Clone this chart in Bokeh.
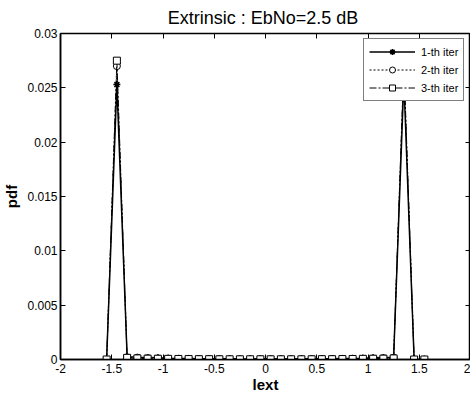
from bokeh.plotting import figure
from bokeh.models import LinearAxis, FixedTicker, Legend, LegendItem, Range1d
from bokeh.embed import file_html
from bokeh.resources import INLINE

# bin centres of the extrinsic LLR histogram
lext = [-1.55, -1.45, -1.35, -1.25, -1.15, -1.05, -0.95, -0.85, -0.75, -0.65,
        -0.55, -0.45, -0.35, -0.25, -0.15, -0.05, 0.05, 0.15, 0.25, 0.35,
        0.45, 0.55, 0.65, 0.75, 0.85, 0.95, 1.05, 1.15, 1.25, 1.35, 1.45, 1.55]

iter1 = [0.0, 0.0253, 0.00025, 0.0002, 0.00018, 0.00015, 0.00012, 0.0001, 0.0001, 0.00008,
         0.00007, 0.00006, 0.00006, 0.00005, 0.00005, 0.00005, 0.00005, 0.00005, 0.00005, 0.00006,
         0.00006, 0.00007, 0.00008, 0.0001, 0.0001, 0.00012, 0.00015, 0.00018, 0.0002, 0.0257, 0.0, 0.0]
iter2 = [0.0, 0.0270, 0.0002, 0.00015, 0.00012, 0.0001, 0.00008, 0.00007, 0.00006, 0.00005,
         0.00004, 0.00004, 0.00003, 0.00003, 0.00003, 0.00003, 0.00003, 0.00003, 0.00003, 0.00003,
         0.00004, 0.00004, 0.00005, 0.00006, 0.00007, 0.00008, 0.0001, 0.00012, 0.00015, 0.0268, 0.0, 0.0]
iter3 = [0.0, 0.0275, 0.00015, 0.0001, 0.00008, 0.00007, 0.00006, 0.00005, 0.00004, 0.00003,
         0.00003, 0.00002, 0.00002, 0.00002, 0.00002, 0.00002, 0.00002, 0.00002, 0.00002, 0.00002,
         0.00002, 0.00003, 0.00003, 0.00004, 0.00005, 0.00006, 0.00007, 0.00008, 0.0001, 0.0274, 0.0, 0.0]

x_ticks = [-2, -1.5, -1, -0.5, 0, 0.5, 1, 1.5, 2]
x_tick_labels = ["-2", "-1.5", "-1", "-0.5", "0", "0.5", "1", "1.5", "2"]
y_ticks = [0, 0.005, 0.01, 0.015, 0.02, 0.025, 0.03]
y_tick_labels = ["0", "0.005", "0.01", "0.015", "0.02", "0.025", "0.03"]

FONT = "Liberation Sans"

p = figure(frame_width=410, frame_height=326, output_backend="svg", toolbar_location=None,
           x_range=Range1d(-2, 2), y_range=Range1d(0, 0.03),
           min_border_left=54, min_border_right=0, min_border_top=24, min_border_bottom=37)
p.title.text = "Extrinsic :  EbNo=2.5 dB"
p.title.align = "center"
p.title.text_font = FONT
p.title.text_font_size = "18px"
p.title.text_font_style = "normal"
p.title.text_color = "black"
p.title.standoff = 11
p.grid.visible = False
p.outline_line_color = "black"
p.outline_line_width = 1.5
p.background_fill_color = "white"
p.border_fill_color = "white"

for ax in p.xaxis:
    ax.ticker = FixedTicker(ticks=x_ticks)
    ax.major_label_overrides = dict(zip(x_ticks, x_tick_labels))
for ax in p.yaxis:
    ax.ticker = FixedTicker(ticks=y_ticks)
    ax.major_label_overrides = dict(zip(y_ticks, y_tick_labels))

p.xaxis.axis_label = "lext"
p.yaxis.axis_label = "pdf"
for ax in list(p.xaxis) + list(p.yaxis):
    ax.major_tick_in = 5
    ax.major_tick_out = 0
    ax.minor_tick_line_color = None
    ax.axis_line_width = 1.5
    ax.major_label_text_font = FONT
    ax.major_label_text_font_size = "12px"
    ax.major_label_text_color = "black"
    ax.axis_label_text_font = FONT
    ax.axis_label_text_font_size = "15px"
    ax.axis_label_text_font_style = "bold"
    ax.axis_label_text_color = "black"
p.xaxis.major_label_standoff = 4
p.xaxis.axis_label_standoff = 0
p.yaxis.major_label_standoff = 3
p.yaxis.axis_label_standoff = 4

top = LinearAxis(ticker=FixedTicker(ticks=x_ticks), major_tick_in=5, major_tick_out=0,
                 minor_tick_line_color=None, major_label_overrides={t: "" for t in x_ticks},
                 major_label_text_font_size="0px", major_label_standoff=0,
                 axis_label_standoff=0, axis_line_color=None)
right = LinearAxis(ticker=FixedTicker(ticks=y_ticks), major_tick_in=5, major_tick_out=0,
                   minor_tick_line_color=None, major_label_overrides={t: "" for t in y_ticks},
                   major_label_text_font_size="0px", major_label_standoff=0,
                   axis_label_standoff=0, axis_line_color=None)
p.add_layout(top, "above")
p.add_layout(right, "right")

l1 = p.line(lext, iter1, line_color="black", line_width=1.5)
m1 = p.scatter(lext, iter1, marker="asterisk", size=7, line_color="black", line_width=1.5)
l2 = p.line(lext, iter2, line_color="black", line_width=1, line_dash="2 2")
m2 = p.scatter(lext, iter2, marker="circle", size=7, line_color="black", fill_color="white", line_width=1)
l3 = p.line(lext, iter3, line_color="black", line_width=1, line_dash="7 2 2 2")
m3 = p.scatter(lext, iter3, marker="square", size=7, line_color="black", fill_color="white", line_width=1)

legend = Legend(items=[
    LegendItem(label="1-th iter", renderers=[l1, m1]),
    LegendItem(label="2-th iter", renderers=[l2, m2]),
    LegendItem(label="3-th iter", renderers=[l3, m3]),
], location=(303, 258))
legend.label_text_font = FONT
legend.label_text_font_size = "11px"
legend.label_text_color = "black"
legend.glyph_width = 46
legend.glyph_height = 15
legend.label_height = 15
legend.spacing = 3
legend.padding = 5
legend.margin = 0
legend.label_standoff = 6
legend.border_line_color = "black"
legend.border_line_width = 1
legend.background_fill_alpha = 1
p.add_layout(legend)

open("out.html", "w").write(file_html(p, INLINE))
